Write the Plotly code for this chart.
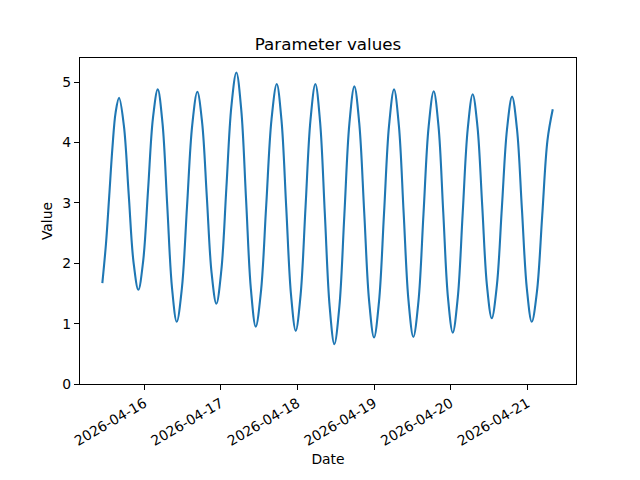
import plotly.graph_objects as go

# Readings taken from the reference chart (time, value)
times = [
    "2026-04-15 10:50", "2026-04-15 12:00", "2026-04-15 13:00", "2026-04-15 14:00", "2026-04-15 15:00",
    "2026-04-15 16:04", "2026-04-15 17:35", "2026-04-15 19:05", "2026-04-15 20:36",
    "2026-04-15 22:07", "2026-04-15 23:38", "2026-04-16 01:10", "2026-04-16 02:41",
    "2026-04-16 04:12", "2026-04-16 05:41", "2026-04-16 07:10", "2026-04-16 08:40",
    "2026-04-16 10:09", "2026-04-16 11:46", "2026-04-16 13:22", "2026-04-16 14:59",
    "2026-04-16 16:36", "2026-04-16 18:06", "2026-04-16 19:35", "2026-04-16 21:04",
    "2026-04-16 22:34", "2026-04-17 00:08", "2026-04-17 01:42", "2026-04-17 03:16",
    "2026-04-17 04:50", "2026-04-17 06:21", "2026-04-17 07:52", "2026-04-17 09:23",
    "2026-04-17 10:54", "2026-04-17 12:33", "2026-04-17 14:11", "2026-04-17 15:50",
    "2026-04-17 17:29", "2026-04-17 18:58", "2026-04-17 20:27", "2026-04-17 21:57",
    "2026-04-17 23:26", "2026-04-18 00:58", "2026-04-18 02:30", "2026-04-18 04:03",
    "2026-04-18 05:35", "2026-04-18 07:04", "2026-04-18 08:33", "2026-04-18 10:03",
    "2026-04-18 11:32", "2026-04-18 13:06", "2026-04-18 14:40", "2026-04-18 16:14",
    "2026-04-18 17:48", "2026-04-18 19:20", "2026-04-18 20:53", "2026-04-18 22:25",
    "2026-04-18 23:58", "2026-04-19 01:32", "2026-04-19 03:06", "2026-04-19 04:40",
    "2026-04-19 06:14", "2026-04-19 07:45", "2026-04-19 09:15", "2026-04-19 10:46",
    "2026-04-19 12:17", "2026-04-19 13:53", "2026-04-19 15:28", "2026-04-19 17:04",
    "2026-04-19 18:40", "2026-04-19 20:10", "2026-04-19 21:39", "2026-04-19 23:08",
    "2026-04-20 00:38", "2026-04-20 02:12", "2026-04-20 03:45", "2026-04-20 05:19",
    "2026-04-20 06:53", "2026-04-20 08:23", "2026-04-20 09:52", "2026-04-20 11:21",
    "2026-04-20 12:51", "2026-04-20 14:27", "2026-04-20 16:02", "2026-04-20 17:38",
    "2026-04-20 19:13", "2026-04-20 20:46", "2026-04-20 22:18", "2026-04-20 23:51",
    "2026-04-21 01:23", "2026-04-21 03:02", "2026-04-21 04:40", "2026-04-21 06:19",
    "2026-04-21 07:58",
]
values = [
    1.67, 2.34, 3.12, 3.92, 4.50,
    4.74, 4.28, 3.15, 2.02,
    1.56, 2.04, 3.22, 4.40,
    4.88, 4.32, 2.96, 1.59,
    1.03, 1.59, 2.94, 4.28,
    4.84, 4.33, 3.09, 1.84,
    1.33, 1.89, 3.25, 4.60,
    5.16, 4.55, 3.06, 1.57,
    0.95, 1.54, 2.96, 4.38,
    4.97, 4.37, 2.93, 1.48,
    0.88, 1.48, 2.93, 4.37,
    4.97, 4.34, 2.82, 1.29,
    0.66, 1.28, 2.80, 4.31,
    4.93, 4.32, 2.85, 1.38,
    0.77, 1.37, 2.83, 4.28,
    4.88, 4.28, 2.83, 1.38,
    0.78, 1.37, 2.82, 4.26,
    4.85, 4.27, 2.85, 1.43,
    0.85, 1.43, 2.83, 4.22,
    4.80, 4.26, 2.95, 1.63,
    1.09, 1.63, 2.93, 4.22,
    4.76, 4.22, 2.90, 1.58,
    1.03, 1.54, 2.79, 4.04,
    4.55,
]
x_tick_vals = ["2026-04-16", "2026-04-17", "2026-04-18", "2026-04-19", "2026-04-20", "2026-04-21"]
x_tick_text = ["2026-04-16", "2026-04-17", "2026-04-18", "2026-04-19", "2026-04-20", "2026-04-21"]
y_tick_vals = [0, 1, 2, 3, 4, 5]

FONT = "DejaVu Sans"

fig = go.Figure()
fig.add_trace(go.Scatter(
    x=times, y=values, mode="lines",
    line=dict(color="#1f77b4", width=2.1, shape="spline", smoothing=1.0),
    showlegend=False,
))

axis_common = dict(
    showgrid=False, zeroline=False,
    showline=True, linecolor="black", linewidth=1.1, mirror=True,
    ticks="outside", ticklen=5, tickwidth=1.1, tickcolor="black",
    tickfont=dict(family=FONT, size=13.9, color="black"),
)

fig.update_layout(
    width=640, height=480,
    margin=dict(l=80, r=64, t=58, b=96),
    paper_bgcolor="white", plot_bgcolor="white",
    title=dict(text="Parameter values", x=0.5, xref="paper", xanchor="center",
               y=1 - 50 / 480, yref="container", yanchor="bottom",
               font=dict(family=FONT, size=16.7, color="black")),
    xaxis=dict(
        **axis_common,
        type="date",
        range=["2026-04-15 03:50", "2026-04-21 15:15"],
        tickmode="array", tickvals=x_tick_vals, ticktext=x_tick_text,
        tickangle=-30,
        title=dict(text="Date", font=dict(family=FONT, size=13.9, color="black"), standoff=6),
    ),
    yaxis=dict(
        **axis_common,
        range=[0, 5.40],
        tickmode="array", tickvals=y_tick_vals,
        title=dict(text="Value", font=dict(family=FONT, size=13.9, color="black"), standoff=6),
    ),
)

fig.write_html(
    "out.html",
    config={"displayModeBar": False},
    post_script="document.body.style.margin='0';document.body.style.padding='0';document.body.style.overflow='hidden';",
)
